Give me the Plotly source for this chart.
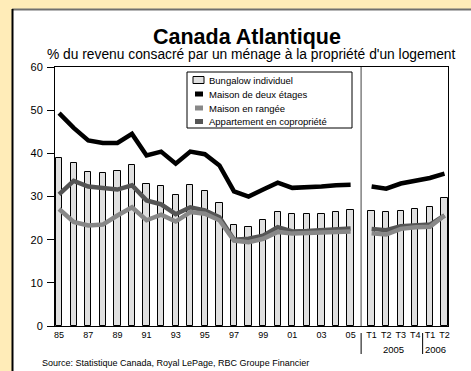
import plotly.graph_objects as go

# ---- data ----
periods = ["1985", "1986", "1987", "1988", "1989", "1990", "1991", "1992", "1993", "1994",
           "1995", "1996", "1997", "1998", "1999", "2000", "2001", "2002", "2003", "2004",
           "2005", "2005T1", "2005T2", "2005T3", "2005T4", "2006T1", "2006T2"]
tick_labels = ["85", "", "87", "", "89", "", "91", "", "93", "", "95", "", "97", "", "99", "",
               "01", "", "03", "", "05", "T1", "T2", "T3", "T4", "T1", "T2"]
bungalow = [39.0, 37.7, 35.7, 35.4, 35.9, 37.4, 32.8, 32.5, 30.4, 32.6, 31.3, 28.6, 23.5, 23.0,
            24.6, 26.5, 26.0, 25.9, 26.0, 26.5, 26.9, 26.6, 26.4, 26.6, 27.2, 27.5, 29.6]
deux_etages = [49.3, 45.9, 43.0, 42.4, 42.4, 44.5, 39.5, 40.4, 37.6, 40.4, 39.8, 37.2, 31.2, 30.0,
               31.6, 33.2, 32.0, 32.1, 32.3, 32.6, 32.7, 32.3, 31.8, 33.0, 33.6, 34.3, 35.3]
rangee = [27.1, 24.1, 23.3, 23.5, 25.6, 27.5, 24.5, 25.8, 24.2, 26.4, 26.0, 24.5, 19.8, 19.4,
          20.2, 21.8, 21.4, 21.5, 21.6, 21.8, 21.9, 21.5, 21.2, 22.5, 22.9, 23.0, 25.6]
appartement = [30.5, 33.6, 32.3, 32.0, 31.6, 32.6, 29.1, 28.2, 25.9, 27.5, 26.8, 25.2, 20.0, 20.2,
               20.9, 22.9, 21.9, 22.0, 22.2, 22.5, 22.6, 22.5, 22.2, 23.1, 23.4, 23.5, 25.6]
series_names = ["Bungalow individuel", "Maison de deux étages", "Maison en rangée",
                "Appartement en copropriété"]
n_annual = 21

# ---- layout helpers ----
W, H = 471, 371
ML, MR, MT, MB = 55, 23, 67, 45
PW, PH = W - ML - MR, H - MT - MB


def fx(p):  # pixel x -> paper
    return (p - ML) / PW


def fy(p):  # pixel y -> paper
    return (H - MB - p) / PH


GAP = 0.44
xpos = [i + (GAP if i >= n_annual else 0) for i in range(len(periods))]
sep_x = (xpos[n_annual - 1] + xpos[n_annual]) / 2
sep2_x = (xpos[24] + xpos[25]) / 2
XMIN, XMAX = -0.28, xpos[-1] + 0.24


def px(x):
    return (x - XMIN) / (XMAX - XMIN)


def broken(vals):
    xs = xpos[:n_annual] + [sep_x] + xpos[n_annual:]
    ys = vals[:n_annual] + [None] + vals[n_annual:]
    return xs, ys


FONT = "Liberation Sans, Arial, sans-serif"
BAR_FILL = "#e0e0e0"
C_DEUX, C_RANG, C_APP = "#000000", "#888888", "#555555"

fig = go.Figure()
fig.add_trace(go.Bar(x=xpos, y=bungalow, name=series_names[0], width=0.43,
                     marker=dict(color=BAR_FILL, line=dict(color="#000000", width=1))))
x2, y2 = broken(deux_etages)
fig.add_trace(go.Scatter(x=x2, y=y2, mode="lines", name=series_names[1],
                         line=dict(color=C_DEUX, width=4.5)))
x4, y4 = broken(appartement)
fig.add_trace(go.Scatter(x=x4, y=y4, mode="lines", name=series_names[3],
                         line=dict(color=C_APP, width=4.5)))
x3, y3 = broken(rangee)
fig.add_trace(go.Scatter(x=x3, y=y3, mode="lines", name=series_names[2],
                         line=dict(color=C_RANG, width=4.5)))

shapes = [
    dict(type="rect", xref="paper", yref="paper", x0=fx(12), x1=fx(480), y0=fy(380), y1=fy(9),
         fillcolor="white", line=dict(width=0), layer="below"),
    dict(type="line", xref="paper", yref="paper", x0=fx(12), x1=fx(480), y0=fy(9.5), y1=fy(9.5),
         line=dict(color="#707070", width=2), layer="below"),
    dict(type="line", xref="paper", yref="paper", x0=fx(12.5), x1=fx(12.5), y0=fy(380), y1=fy(9),
         line=dict(color="#000000", width=2), layer="below"),
    dict(type="line", xref="paper", yref="paper", x0=px(sep_x), x1=px(sep_x), y0=0, y1=1,
         line=dict(color="#808080", width=1.5)),
    dict(type="line", xref="paper", yref="paper", x0=px(sep_x), x1=px(sep_x), y0=fy(333), y1=fy(354),
         line=dict(color="#000000", width=1)),
    dict(type="line", xref="paper", yref="paper", x0=px(sep2_x), x1=px(sep2_x), y0=fy(333), y1=fy(354),
         line=dict(color="#000000", width=1)),
    # legend box
    dict(type="rect", xref="paper", yref="paper", x0=fx(187), x1=fx(352), y0=fy(128), y1=fy(72),
         fillcolor="white", line=dict(color="#000000", width=1)),
]

annotations = [
    dict(text="<b>Canada Atlantique</b>", xref="paper", yref="paper", x=fx(247), y=fy(37),
         xanchor="center", yanchor="middle", showarrow=False,
         font=dict(size=21.5, color="#000000", family=FONT)),
    dict(text="% du revenu consacré par un ménage à la propriété d'un logement", xref="paper",
         yref="paper", x=fx(251), y=fy(54), xanchor="center", yanchor="middle", showarrow=False,
         font=dict(size=13.8, color="#000000", family=FONT)),
    dict(text="2005", xref="paper", yref="paper", x=px((xpos[22] + xpos[23]) / 2), y=fy(349),
         xanchor="center", yanchor="middle", showarrow=False,
         font=dict(size=9.5, color="#000000", family=FONT)),
    dict(text="2006", xref="paper", yref="paper", x=fx(435), y=fy(349),
         xanchor="center", yanchor="middle", showarrow=False,
         font=dict(size=9.5, color="#000000", family=FONT)),
    dict(text="Source: Statistique Canada, Royal LePage, RBC Groupe Financier", xref="paper",
         yref="paper", x=fx(40), y=fy(363), xanchor="left", yanchor="middle", showarrow=False,
         font=dict(size=9, color="#000000", family=FONT)),
]

# manual legend (compact, as in the reference)
leg_rows = [80, 94, 108, 121.5]
for i, (name, yy) in enumerate(zip(series_names, leg_rows)):
    if i == 0:
        shapes.append(dict(type="rect", xref="paper", yref="paper", x0=fx(193), x1=fx(204),
                           y0=fy(yy + 3.5), y1=fy(yy - 3.5), fillcolor=BAR_FILL,
                           line=dict(color="#000000", width=1)))
    else:
        col = [C_DEUX, C_RANG, C_APP][i - 1]
        shapes.append(dict(type="line", xref="paper", yref="paper", x0=fx(195), x1=fx(203),
                           y0=fy(yy), y1=fy(yy), line=dict(color=col, width=5)))
    annotations.append(dict(text=name, xref="paper", yref="paper", x=fx(207), y=fy(yy),
                            xanchor="left", yanchor="middle", showarrow=False,
                            font=dict(size=9.5, color="#000000", family=FONT)))

fig.update_layout(
    width=W, height=H,
    margin=dict(l=ML, r=MR, t=MT, b=MB),
    paper_bgcolor="#FFECB8", plot_bgcolor="white",
    font=dict(family=FONT, color="#000000"),
    showlegend=False,
    bargap=0,
    shapes=shapes, annotations=annotations,
    xaxis=dict(range=[XMIN, XMAX], tickmode="array", tickvals=xpos, ticktext=tick_labels,
               showgrid=False, zeroline=False, showline=True, linecolor="#000000", linewidth=1,
               mirror=True, ticks="", tickfont=dict(size=9, family=FONT), tickangle=0),
    yaxis=dict(range=[0, 60], dtick=10, showgrid=False, zeroline=False, showline=True,
               linecolor="#000000", linewidth=1, mirror=True, ticks="outside", ticklen=7,
               tickcolor="#000000", tickfont=dict(size=11, family=FONT), ticklabelstandoff=2),
)

fig.write_html("out.html")
